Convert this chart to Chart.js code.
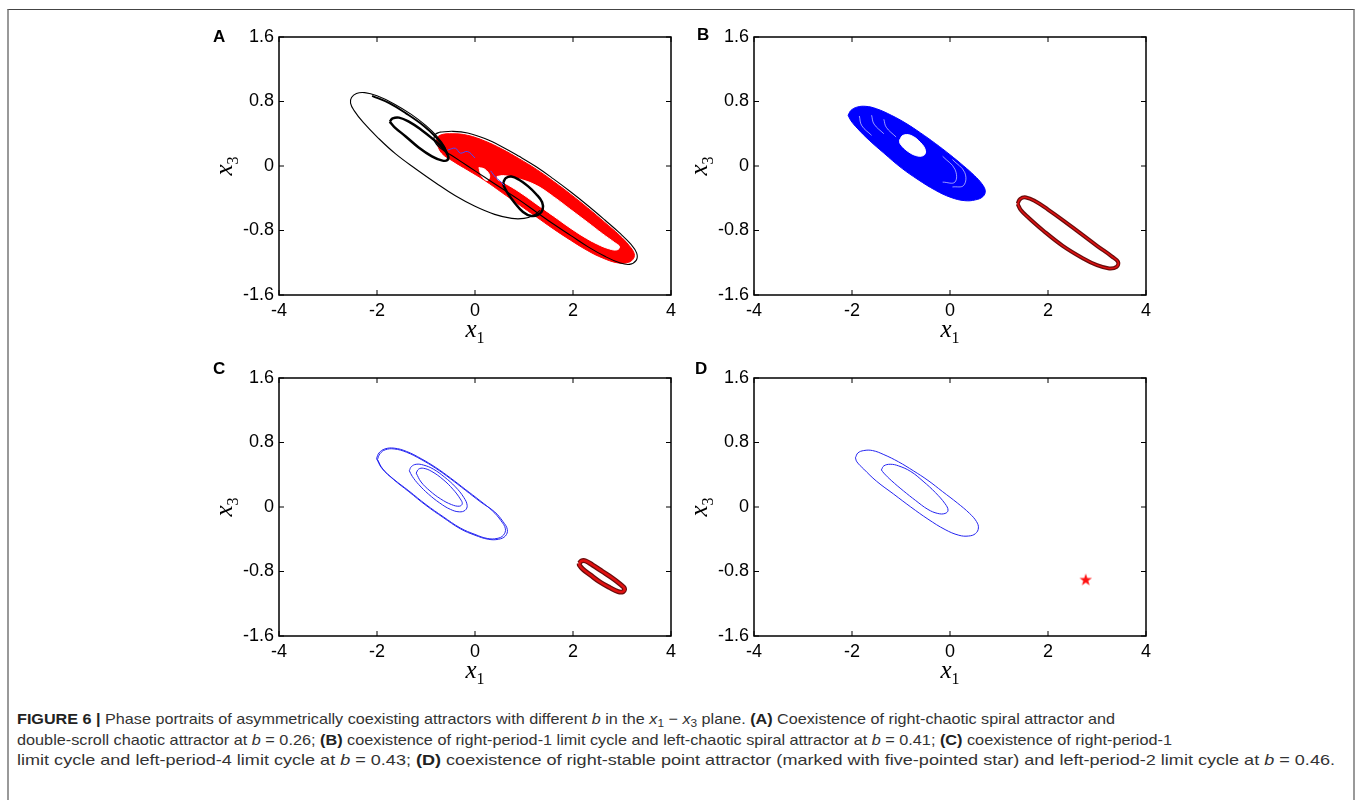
<!DOCTYPE html>
<html>
<head>
<meta charset="utf-8">
<script src="https://cdn.jsdelivr.net/npm/chart.js@4.4.0/dist/chart.umd.min.js"></script>
<style>
body { margin:0; background:#fff; width:1357px; height:800px; overflow:hidden; position:relative; font-family:"Liberation Sans", Arial, sans-serif; }
#frame { position:absolute; left:7px; top:9px; width:1344px; height:820px; border-top:1px solid #444; border-left:2px solid #999; border-right:2px solid #999; }
canvas { position:absolute; }
.lab { position:absolute; font-weight:bold; font-size:17px; line-height:1; color:#000; }
.xt { position:absolute; width:80px; text-align:center; font-family:"Liberation Serif", serif; font-style:italic; font-size:25px; line-height:1; color:#000; }
.xt sub { font-style:normal; font-size:16px; }
.yt { position:absolute; width:60px; height:30px; line-height:30px; text-align:center; font-family:"Liberation Serif", serif; font-style:italic; font-size:25px; color:#000; transform:rotate(-90deg); }
.yt sub { font-style:normal; font-size:16px; }
.cap { position:absolute; left:17px; white-space:nowrap; font-size:15px; line-height:20px; color:#333; transform-origin:0 50%; }
.cap b { color:#222; }
.cap sub { font-size:11px; vertical-align:-3px; line-height:0; }
</style>
</head>
<body>
<div id="frame"></div>

<canvas id="cA"></canvas>
<canvas id="cB"></canvas>
<canvas id="cC"></canvas>
<canvas id="cD"></canvas>

<div class="lab" style="left:213px;top:28px">A</div>
<div class="lab" style="left:697px;top:26px">B</div>
<div class="lab" style="left:213px;top:360px">C</div>
<div class="lab" style="left:695px;top:360px">D</div>

<div class="xt" style="left:435px;top:316px">x<sub>1</sub></div>
<div class="xt" style="left:910px;top:316px">x<sub>1</sub></div>
<div class="xt" style="left:435px;top:657px">x<sub>1</sub></div>
<div class="xt" style="left:910px;top:657px">x<sub>1</sub></div>

<div class="yt" style="left:194px;top:151px">x<sub>3</sub></div>
<div class="yt" style="left:669px;top:151px">x<sub>3</sub></div>
<div class="yt" style="left:194px;top:492px">x<sub>3</sub></div>
<div class="yt" style="left:669px;top:492px">x<sub>3</sub></div>

<div class="cap" data-w="1098" style="top:709px"><b>FIGURE 6 |</b> Phase portraits of asymmetrically coexisting attractors with different <i>b</i> in the <i>x</i><sub>1</sub> − <i>x</i><sub>3</sub> plane. <b>(A)</b> Coexistence of right-chaotic spiral attractor and</div>
<div class="cap" data-w="1155" style="top:730px">double-scroll chaotic attractor at <i>b</i> = 0.26; <b>(B)</b> coexistence of right-period-1 limit cycle and left-chaotic spiral attractor at <i>b</i> = 0.41; <b>(C)</b> coexistence of right-period-1</div>
<div class="cap" data-w="1318" style="top:750px">limit cycle and left-period-4 limit cycle at <i>b</i> = 0.43; <b>(D)</b> coexistence of right-stable point attractor (marked with five-pointed star) and left-period-2 limit cycle at <i>b</i> = 0.46.</div>

<script>
// axes (same for all four panels)
const xTicks = [-4, -2, 0, 2, 4];
const xTickLabels = ['-4', '-2', '0', '2', '4'];
const yTicks = [-1.6, -0.8, 0, 0.8, 1.6];
const yTickLabels = ['-1.6', '-0.8', '0', '0.8', '1.6'];

// A: b = 0.26, [x1, x3]
const aRedOuter = [[-0.8,0.31],[-0.72,0.38],[-0.45,0.40],[-0.15,0.38],[0.2,0.31],[0.55,0.21],[0.9,0.09],[1.25,-0.04],[1.6,-0.19],[1.95,-0.35],[2.3,-0.52],[2.65,-0.70],[2.95,-0.86],[3.15,-0.99],[3.25,-1.09],[3.22,-1.16],[3.1,-1.2],[2.9,-1.2],[2.6,-1.14],[2.3,-1.05],[1.95,-0.92],[1.6,-0.78],[1.25,-0.63],[0.9,-0.48],[0.55,-0.33],[0.2,-0.18],[-0.15,-0.05],[-0.45,0.06],[-0.68,0.16],[-0.8,0.31]];
const aRedHole = [[0.45,-0.13],[0.6,-0.12],[0.9,-0.16],[1.25,-0.24],[1.6,-0.38],[1.95,-0.54],[2.3,-0.70],[2.6,-0.84],[2.85,-0.95],[2.95,-1.0],[2.9,-1.04],[2.75,-1.03],[2.5,-0.97],[2.2,-0.87],[1.9,-0.75],[1.6,-0.62],[1.25,-0.47],[0.9,-0.32],[0.6,-0.21],[0.47,-0.17],[0.45,-0.13]];
const aRedPocket = [[0.08,-0.02],[0.2,-0.04],[0.3,-0.12],[0.25,-0.18],[0.13,-0.12],[0.08,-0.02]];
const aBlackBig = [[-0.55,0.12],[-0.62,0.24],[-0.78,0.37],[-1.0,0.5],[-1.3,0.64],[-1.65,0.77],[-2.0,0.87],[-2.25,0.91],[-2.42,0.9],[-2.52,0.85],[-2.54,0.78],[-2.47,0.69],[-2.28,0.54],[-1.98,0.35],[-1.62,0.15],[-1.2,-0.04],[-0.8,-0.21],[-0.4,-0.37],[0.0,-0.5],[0.4,-0.6],[0.75,-0.65],[1.0,-0.65],[1.2,-0.61],[1.33,-0.55]];
const aBlackUpper = [[-2.1,0.87],[-1.75,0.78],[-1.4,0.65],[-1.05,0.5],[-0.8,0.36],[-0.64,0.24],[-0.56,0.14]];
const aBlackSmallL = [[-1.74,0.55],[-1.68,0.59],[-1.55,0.6],[-1.35,0.55],[-1.1,0.45],[-0.85,0.33],[-0.65,0.22],[-0.55,0.13],[-0.57,0.07],[-0.68,0.07],[-0.88,0.12],[-1.15,0.23],[-1.42,0.37],[-1.64,0.48],[-1.74,0.55]];
const aBlackSmallR = [[0.58,-0.2],[0.63,-0.15],[0.74,-0.13],[0.9,-0.17],[1.08,-0.25],[1.25,-0.35],[1.37,-0.45],[1.38,-0.54],[1.3,-0.6],[1.15,-0.62],[0.98,-0.57],[0.8,-0.45],[0.66,-0.33],[0.59,-0.25],[0.58,-0.2]];
const aBlackRight = [[-0.72,0.42],[-0.45,0.43],[-0.15,0.41],[0.2,0.34],[0.55,0.24],[0.9,0.12],[1.25,-0.01],[1.6,-0.16],[1.95,-0.32],[2.3,-0.49],[2.65,-0.67],[2.95,-0.83],[3.18,-0.97],[3.3,-1.08],[3.29,-1.17],[3.15,-1.22],[2.95,-1.2],[2.65,-1.12],[2.3,-1.0],[1.95,-0.86],[1.6,-0.72],[1.25,-0.57],[0.9,-0.42],[0.55,-0.28],[0.2,-0.14],[-0.15,0.0],[-0.45,0.12],[-0.7,0.22],[-0.83,0.31],[-0.81,0.39],[-0.72,0.42]];
const aBlue1 = [[-0.55,0.2],[-0.4,0.22],[-0.3,0.16],[-0.15,0.18],[0.0,0.1]];
const aBlue2 = [[0.32,-0.06],[0.42,-0.14],[0.5,-0.18],[0.6,-0.24]];

// B: b = 0.41
const bBlueOuter = [[-2.08,0.63],[-2.02,0.69],[-1.9,0.73],[-1.72,0.74],[-1.5,0.71],[-1.2,0.63],[-0.9,0.53],[-0.6,0.41],[-0.3,0.28],[0.0,0.14],[0.28,0.0],[0.5,-0.12],[0.65,-0.22],[0.72,-0.31],[0.67,-0.38],[0.52,-0.42],[0.3,-0.43],[0.02,-0.39],[-0.3,-0.3],[-0.65,-0.17],[-1.0,-0.02],[-1.35,0.16],[-1.65,0.32],[-1.88,0.46],[-2.02,0.56],[-2.08,0.63]];
const bBlueHole = [[-1.03,0.32],[-0.96,0.38],[-0.8,0.38],[-0.6,0.29],[-0.5,0.19],[-0.54,0.13],[-0.7,0.13],[-0.9,0.2],[-1.02,0.28],[-1.03,0.32]];
const bStreaks = [
  [[-1.85,0.62],[-1.8,0.5],[-1.6,0.38]],
  [[-1.6,0.63],[-1.55,0.52],[-1.35,0.4]],
  [[-1.35,0.58],[-1.3,0.48],[-1.1,0.36]],
  [[0.05,0.08],[0.3,-0.08],[0.28,-0.24],[0.05,-0.26]],
  [[-0.15,0.12],[0.1,-0.04],[0.1,-0.2],[-0.15,-0.2]]
];
const bRedCycle = [[1.38,-0.47],[1.43,-0.41],[1.55,-0.39],[1.75,-0.44],[2.0,-0.54],[2.3,-0.67],[2.65,-0.83],[3.0,-0.99],[3.3,-1.12],[3.43,-1.19],[3.4,-1.25],[3.25,-1.27],[3.0,-1.23],[2.7,-1.14],[2.3,-0.99],[1.9,-0.8],[1.6,-0.64],[1.45,-0.55],[1.38,-0.47]];

// C: b = 0.43
const cBlueOuter1 = [[-2.01,0.60],[-1.96,0.67],[-1.84,0.72],[-1.65,0.73],[-1.4,0.69],[-1.1,0.60],[-0.8,0.49],[-0.5,0.36],[-0.2,0.22],[0.1,0.08],[0.36,-0.05],[0.53,-0.17],[0.62,-0.27],[0.58,-0.35],[0.45,-0.39],[0.25,-0.39],[0.0,-0.34],[-0.3,-0.26],[-0.65,-0.12],[-1.0,0.03],[-1.35,0.2],[-1.67,0.35],[-1.9,0.48],[-2.01,0.60]];
const cBlueOuter2 = [[-1.99,0.59],[-1.94,0.66],[-1.83,0.71],[-1.65,0.72],[-1.4,0.68],[-1.1,0.59],[-0.8,0.48],[-0.5,0.35],[-0.2,0.21],[0.12,0.06],[0.4,-0.06],[0.57,-0.18],[0.66,-0.28],[0.62,-0.36],[0.48,-0.4],[0.27,-0.4],[0.0,-0.35],[-0.3,-0.27],[-0.65,-0.13],[-1.0,0.02],[-1.35,0.19],[-1.66,0.34],[-1.88,0.47],[-1.99,0.59]];
const cBlueInner1 = [[-1.34,0.45],[-1.3,0.5],[-1.2,0.53],[-1.05,0.52],[-0.85,0.47],[-0.62,0.37],[-0.4,0.25],[-0.23,0.12],[-0.16,0.02],[-0.2,-0.04],[-0.32,-0.06],[-0.5,-0.03],[-0.72,0.05],[-0.95,0.16],[-1.15,0.28],[-1.28,0.38],[-1.34,0.45]];
const cBlueInner2 = [[-1.2,0.42],[-1.15,0.47],[-1.05,0.48],[-0.88,0.44],[-0.65,0.34],[-0.45,0.22],[-0.3,0.1],[-0.26,0.04],[-0.32,0.01],[-0.48,0.03],[-0.7,0.1],[-0.92,0.2],[-1.1,0.31],[-1.2,0.42]];
const cRedCycle = [[2.13,-0.70],[2.17,-0.67],[2.26,-0.67],[2.4,-0.72],[2.6,-0.8],[2.8,-0.88],[2.97,-0.96],[3.05,-1.01],[3.02,-1.05],[2.92,-1.05],[2.75,-1.0],[2.55,-0.93],[2.35,-0.84],[2.2,-0.77],[2.13,-0.72],[2.13,-0.70]];

// D: b = 0.46
const dBlueOuter = [[-1.93,0.61],[-1.88,0.67],[-1.76,0.70],[-1.58,0.70],[-1.35,0.65],[-1.05,0.56],[-0.75,0.45],[-0.45,0.33],[-0.15,0.19],[0.15,0.05],[0.4,-0.08],[0.54,-0.18],[0.58,-0.26],[0.52,-0.33],[0.38,-0.36],[0.18,-0.35],[-0.1,-0.28],[-0.45,-0.15],[-0.8,0.0],[-1.15,0.16],[-1.5,0.32],[-1.76,0.47],[-1.9,0.56],[-1.93,0.61]];
const dBlueInner = [[-1.4,0.46],[-1.35,0.51],[-1.22,0.53],[-1.05,0.51],[-0.8,0.44],[-0.55,0.32],[-0.3,0.18],[-0.1,0.04],[-0.04,-0.04],[-0.1,-0.08],[-0.25,-0.08],[-0.45,-0.03],[-0.7,0.08],[-0.95,0.2],[-1.2,0.33],[-1.35,0.42],[-1.4,0.46]];
const dStar = [[2.77,-0.90]];

function line(pts, color, width, extra) {
  return Object.assign({
    data: pts.map(p => ({ x: p[0], y: p[1] })),
    showLine: true,
    borderColor: color,
    borderWidth: width,
    pointRadius: 0,
    tension: 0.4,
    fill: false
  }, extra || {});
}
function filled(pts, color) {
  return line(pts, color, 1, { fill: 'shape', backgroundColor: color });
}

// box and inward ticks on all four sides, matlab style
const boxPlugin = {
  id: 'box',
  afterDatasetsDraw(chart) {
    const { ctx, chartArea: a, scales: { x, y } } = chart;
    ctx.save();
    ctx.strokeStyle = '#000';
    ctx.lineWidth = 1;
    ctx.beginPath();
    xTicks.forEach(v => {
      const px = x.getPixelForValue(v);
      ctx.moveTo(px, a.top); ctx.lineTo(px, a.top + 5);
      ctx.moveTo(px, a.bottom); ctx.lineTo(px, a.bottom - 5);
    });
    yTicks.forEach(v => {
      const py = y.getPixelForValue(v);
      ctx.moveTo(a.left, py); ctx.lineTo(a.left + 5, py);
      ctx.moveTo(a.right, py); ctx.lineTo(a.right - 5, py);
    });
    ctx.stroke();
    ctx.lineWidth = 1.5;
    ctx.strokeRect(a.left, a.top, a.right - a.left, a.bottom - a.top);
    ctx.restore();
  }
};

function panel(id, left, top, sets) {
  const cv = document.getElementById(id);
  cv.width = 500; cv.height = 330;
  cv.style.left = left + 'px'; cv.style.top = top + 'px';
  const tickFont = { family: 'Liberation Sans', size: 18 };
  return new Chart(cv, {
    type: 'scatter',
    data: { datasets: sets },
    plugins: [boxPlugin],
    options: {
      responsive: false,
      animation: false,
      events: [],
      layout: { padding: { left: 0, right: 24, top: 17, bottom: 0 } },
      plugins: { legend: { display: false }, tooltip: { enabled: false } },
      scales: {
        x: {
          min: -4, max: 4,
          afterBuildTicks: s => { s.ticks = xTicks.map(v => ({ value: v })); },
          afterFit: s => { s.height = 55; },
          ticks: { callback: (v, i) => xTickLabels[i], font: tickFont, color: '#000', padding: 5, maxRotation: 0, autoSkip: false },
          grid: { display: false, drawTicks: false },
          border: { display: false }
        },
        y: {
          min: -1.6, max: 1.6,
          afterBuildTicks: s => { s.ticks = yTicks.map(v => ({ value: v })); },
          afterFit: s => { s.width = 84; },
          ticks: { callback: (v, i) => yTickLabels[i], font: tickFont, color: '#000', padding: 5, autoSkip: false },
          grid: { display: false, drawTicks: false },
          border: { display: false }
        }
      }
    }
  });
}

// five-pointed star marker
const star = document.createElement('canvas');
star.width = 14; star.height = 14;
(function () {
  const c = star.getContext('2d');
  c.fillStyle = '#ff1010';
  c.beginPath();
  for (let k = 0; k < 10; k++) {
    const r = k % 2 ? 2.6 : 6.5;
    const t = -Math.PI / 2 + k * Math.PI / 5;
    c.lineTo(7 + r * Math.cos(t), 7.5 + r * Math.sin(t));
  }
  c.closePath();
  c.fill();
})();

const black = '#000';
const blue = '#2424f0';

panel('cA', 195, 20, [
  line(aBlue1, '#4a4aff', 1),
  line(aBlue2, '#4a4aff', 1),
  line(aBlackSmallL, black, 2.5),
  line(aBlackSmallR, black, 2.5),
  line(aBlackUpper, black, 2),
  line(aBlackBig, black, 1.1),
  line(aBlackRight, black, 1.1),
  filled(aRedPocket, '#ffffff'),
  filled(aRedHole, '#ffffff'),
  filled(aRedOuter, '#ff0000')
]);

panel('cB', 670, 20, [
  line(bRedCycle, '#e01010', 1.5),
  line(bRedCycle, '#6a0c0c', 4),
  ...bStreaks.map(s => line(s, 'rgba(255,255,255,0.6)', 1)),
  filled(bBlueHole, '#ffffff'),
  filled(bBlueOuter, '#0000ff')
]);

panel('cC', 195, 361, [
  line(cRedCycle, '#e01010', 2.5),
  line(cRedCycle, '#6a0c0c', 5),
  line(cBlueOuter1, blue, 1),
  line(cBlueOuter2, blue, 1),
  line(cBlueInner1, blue, 1),
  line(cBlueInner2, blue, 1)
]);

panel('cD', 670, 361, [
  { data: dStar.map(p => ({ x: p[0], y: p[1] })), pointStyle: star, pointRadius: 7, showLine: false },
  line(dBlueOuter, blue, 1),
  line(dBlueInner, blue, 1)
]);

// fit each caption line to its width in the figure
document.querySelectorAll('.cap').forEach(el => {
  const w = el.getBoundingClientRect().width;
  el.style.transform = 'scaleX(' + (el.dataset.w / w) + ')';
});
</script>
</body>
</html>
